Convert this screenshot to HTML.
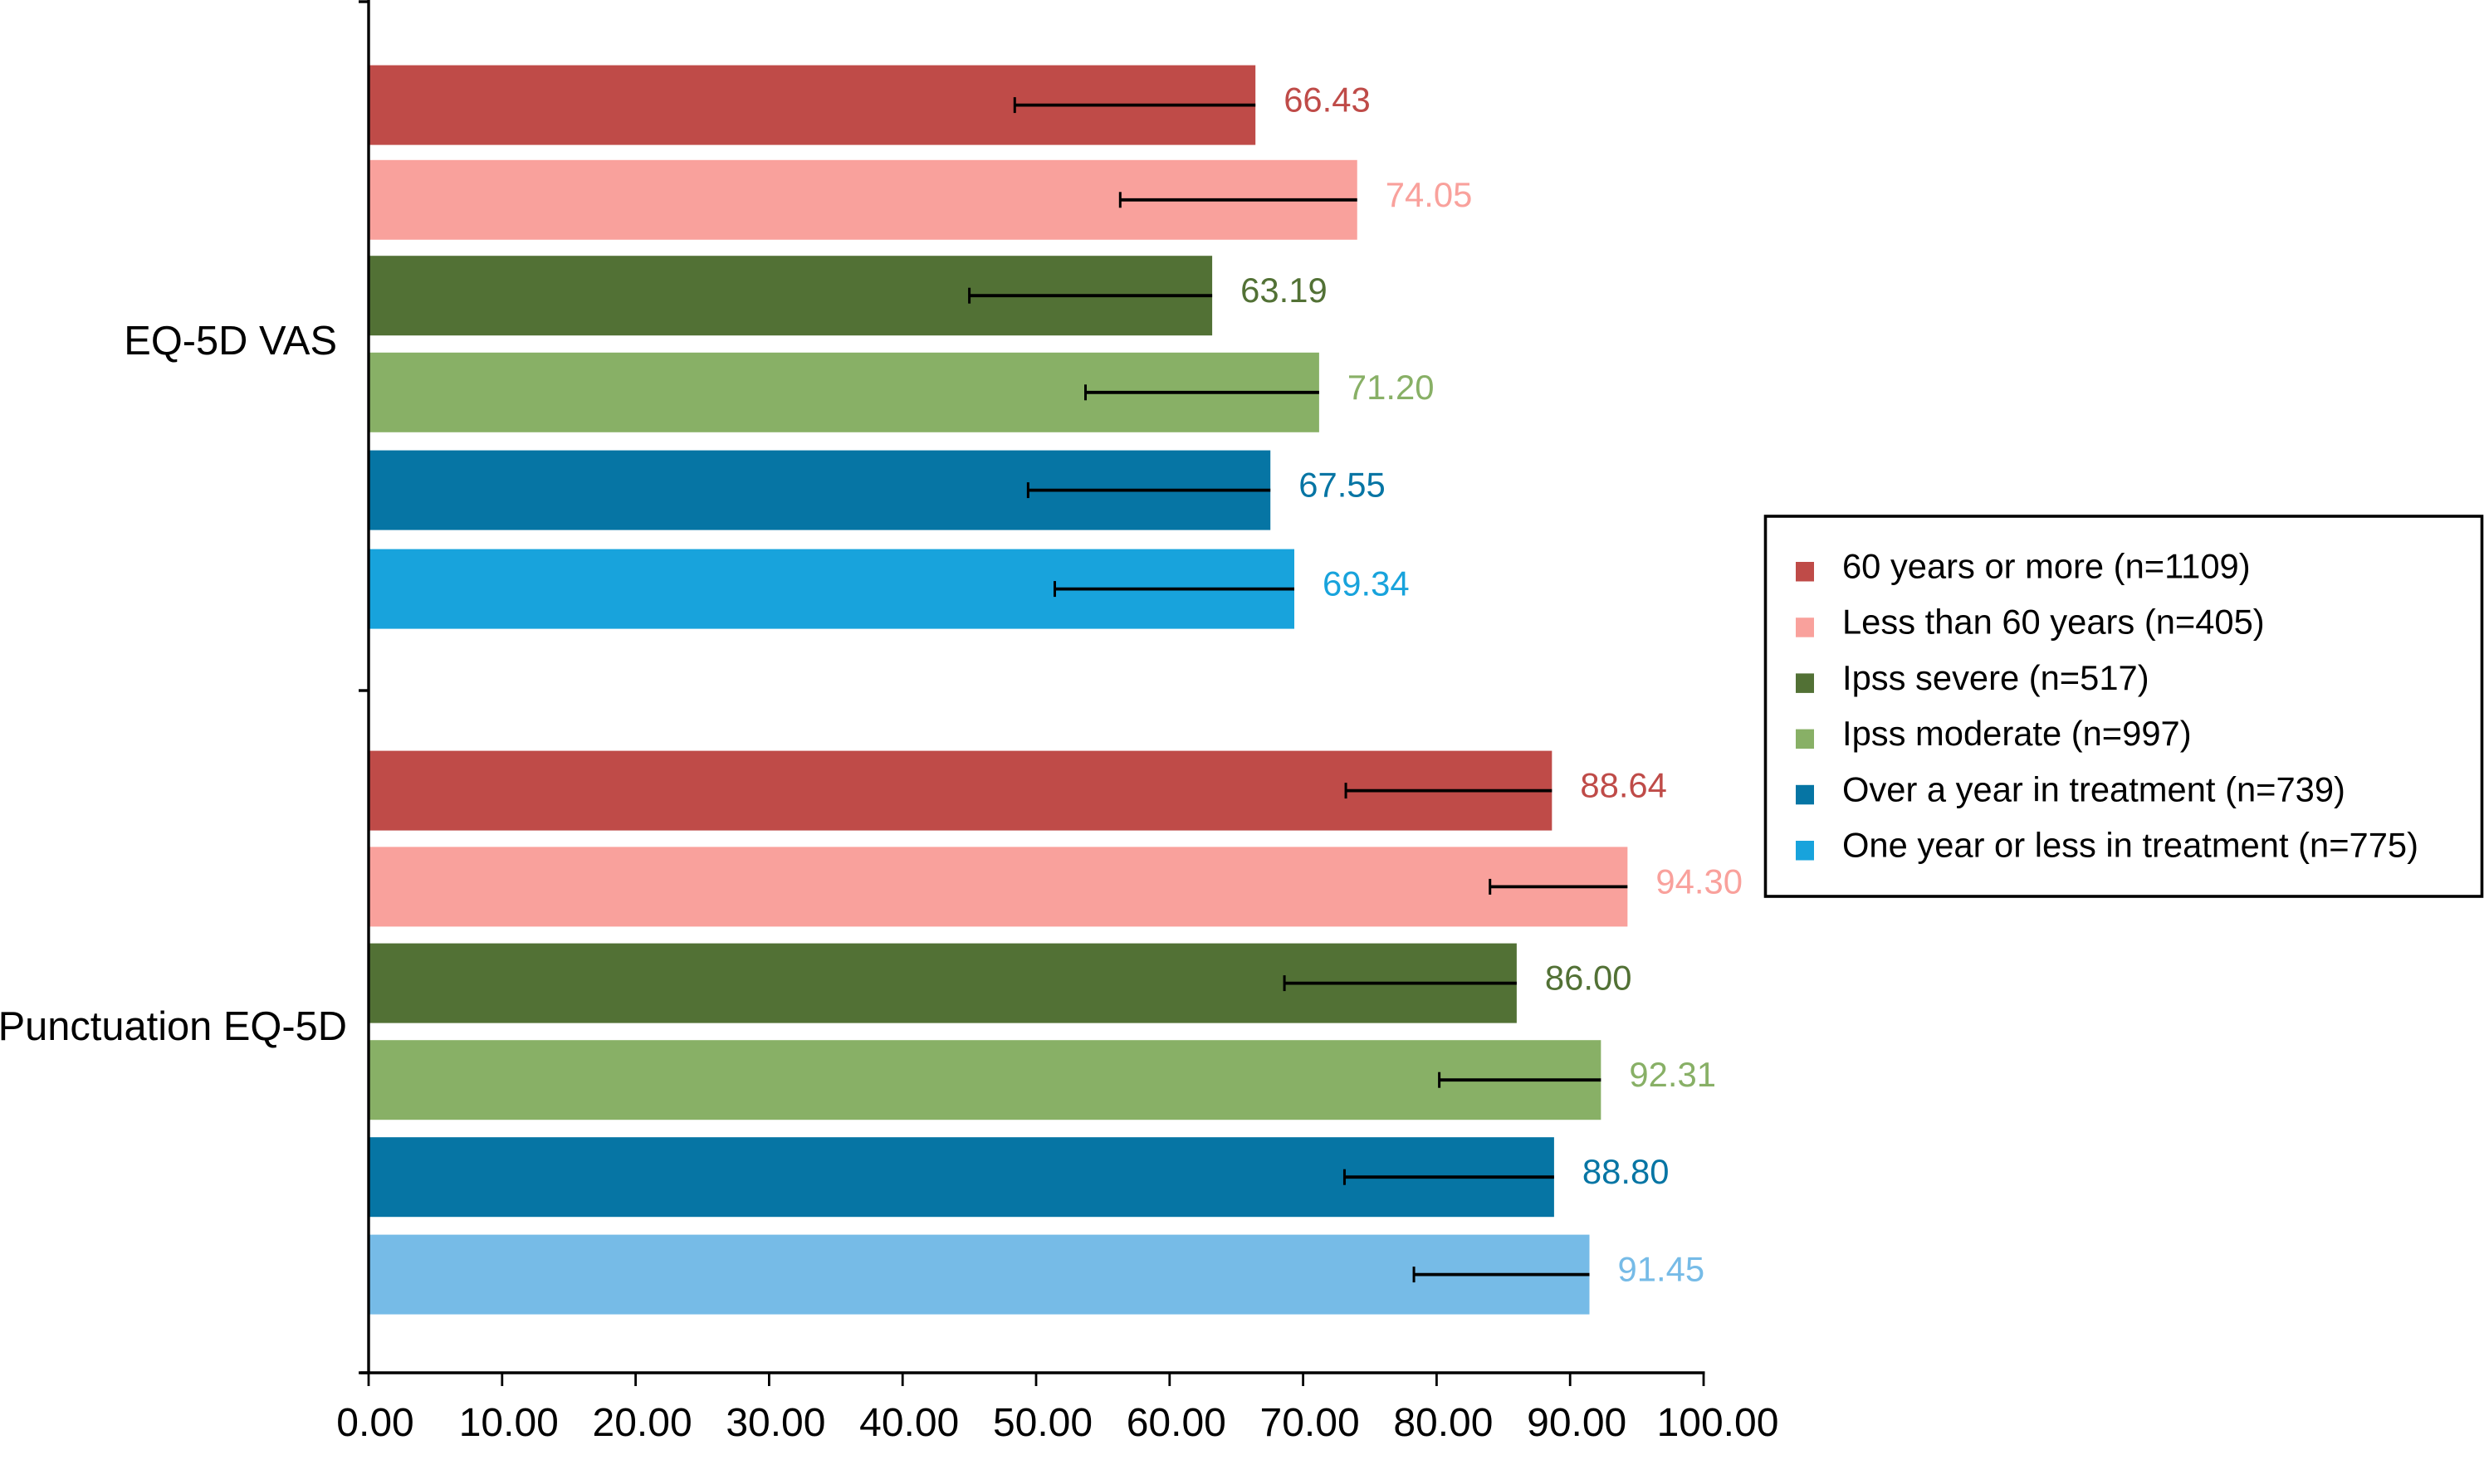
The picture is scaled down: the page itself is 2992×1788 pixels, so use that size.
<!DOCTYPE html>
<html lang="en">
<head>
<meta charset="utf-8">
<title>EQ-5D scores by subgroup</title>
<style>
  html, body { margin: 0; padding: 0; background: #ffffff; }
  svg { display: block; font-family: "Liberation Sans", Arial, sans-serif; }
</style>
</head>
<body>
<svg id="chart" xmlns="http://www.w3.org/2000/svg" width="2992" height="1788" viewBox="0 0 2992 1788">
  <rect x="0" y="0" width="2992" height="1788" fill="#ffffff"/>
  <g id="bars"></g>
  <g id="errors"></g>
  <g id="values"></g>
  <g id="axes"></g>
  <g id="legend"></g>
</svg>
<script>
const categories = ["EQ-5D VAS", "Punctuation EQ-5D"];
const seriesNames = ["60 years or more (n=1109)", "Less than 60 years (n=405)", "Ipss severe (n=517)", "Ipss moderate (n=997)", "Over a year in treatment (n=739)", "One year or less in treatment (n=775)"];
const vasValues = [66.43, 74.05, 63.19, 71.20, 67.55, 69.34];
const punctuationValues = [88.64, 94.30, 86.00, 92.31, 88.80, 91.45];
const vasLowerBounds = [48.4, 56.3, 45.0, 53.7, 49.4, 51.4];
const punctuationLowerBounds = [73.2, 84.0, 68.6, 80.2, 73.1, 78.3];
const xTickValues = [0, 10, 20, 30, 40, 50, 60, 70, 80, 90, 100];
const vasColors = ["#BF4B48", "#F9A19C", "#527135", "#88B066", "#0675A4", "#18A3DC"];
const punctuationColors = ["#BF4B48", "#F9A19C", "#527135", "#88B066", "#0675A4", "#76BBE7"];

const NS = "http://www.w3.org/2000/svg";
const axisX0 = 444, axisXScale = 16.08, axisTop = 2, axisBottom = 1654, midTickY = 832;
const bandHeight = 826, barInset = 76.6, rowStep = 116.6, barHeight = 96;
const lastRow = 5;

function xPos(v) { return axisX0 + v * axisXScale; }
function bandTop(c) { return axisTop + c * bandHeight; }
// Rows in the source drift slightly from an even pitch; the bow bends them toward the middle.
function rowBow(c) { return c === 0 ? 0.6 : 0.2; }
function barTop(c, s) { return bandTop(c) + barInset + s * rowStep - rowBow(c) * s * (lastRow - s); }
function barCenter(c, s) { return barTop(c, s) + barHeight / 2; }

function make(parent, tag, attrs, text) {
  const el = document.createElementNS(NS, tag);
  for (const k in attrs) el.setAttribute(k, attrs[k]);
  if (text !== undefined) el.textContent = text;
  parent.appendChild(el);
  return el;
}

const barsG = document.getElementById("bars");
const errorsG = document.getElementById("errors");
const valuesG = document.getElementById("values");
const axesG = document.getElementById("axes");
const legendG = document.getElementById("legend");

const groupValues = [vasValues, punctuationValues];
const groupLows = [vasLowerBounds, punctuationLowerBounds];
const groupColors = [vasColors, punctuationColors];

groupValues.forEach(function (vals, c) {
  vals.forEach(function (v, s) {
    const y = barTop(c, s), cy = barCenter(c, s);
    const bar = make(barsG, "rect", { x: axisX0, y: y, width: xPos(v) - axisX0, height: barHeight, fill: groupColors[c][s] });
    
    

    const low = groupLows[c][s];
    const stem = make(errorsG, "line", { x1: xPos(low), x2: xPos(v), y1: cy, y2: cy, stroke: "#000000", "stroke-width": 3.8 });
    
    
    const cap = make(errorsG, "line", { x1: xPos(low), x2: xPos(low), y1: cy - 9.5, y2: cy + 9.5, stroke: "#000000", "stroke-width": 3 });
    
    

    const label = make(valuesG, "text", { x: xPos(v) + 34, y: cy + 8, "font-size": 41.8, fill: groupColors[c][s] }, v.toFixed(2));
    
    
  });
});

// Y axis
const yAxis = make(axesG, "line", { x1: axisX0, x2: axisX0, y1: 0, y2: axisBottom, stroke: "#000000", "stroke-width": 3.4 });


[axisTop, midTickY, axisBottom].forEach(function (yy) {
  const tick = make(axesG, "line", { x1: axisX0 - 12, x2: axisX0, y1: yy, y2: yy, stroke: "#000000", "stroke-width": 3.4 });
  
  
});
const categoryRightEdges = [406, 418];
categories.forEach(function (name, c) {
  const t = make(axesG, "text", { x: categoryRightEdges[c], y: bandTop(c) + bandHeight / 2 + 12, "font-size": 48.8, "text-anchor": "end", fill: "#000000" }, name);
  
  
});

// X axis
const xAxis = make(axesG, "line", { x1: axisX0 - 10, x2: xPos(100) + 1.5, y1: axisBottom, y2: axisBottom, stroke: "#000000", "stroke-width": 3.6 });


xTickValues.forEach(function (v) {
  const tick = make(axesG, "line", { x1: xPos(v), x2: xPos(v), y1: axisBottom, y2: axisBottom + 16, stroke: "#000000", "stroke-width": 2.8 });
  
  
  const text = v.toFixed(2);
  const shift = text.length > 5 ? 17 : 8;
  const label = make(axesG, "text", { x: xPos(v) + shift, y: 1730, "font-size": 48, "text-anchor": "middle", fill: "#000000" }, text);
  
  
});

// Legend
const legendBox = make(legendG, "rect", { x: 2126.5, y: 622, width: 863, height: 458, fill: "#ffffff", stroke: "#000000", "stroke-width": 3.6 });


seriesNames.forEach(function (name, s) {
  const baseline = 696.5 + s * 67.2;
  const swatch = make(legendG, "rect", { x: 2163, y: baseline - 19.5, width: 22, height: 23.5, fill: vasColors[s] });
  
  
  const label = make(legendG, "text", { x: 2219, y: baseline, "font-size": 41.7, fill: "#000000" }, name);
  
  
});
</script>
</body>
</html>
